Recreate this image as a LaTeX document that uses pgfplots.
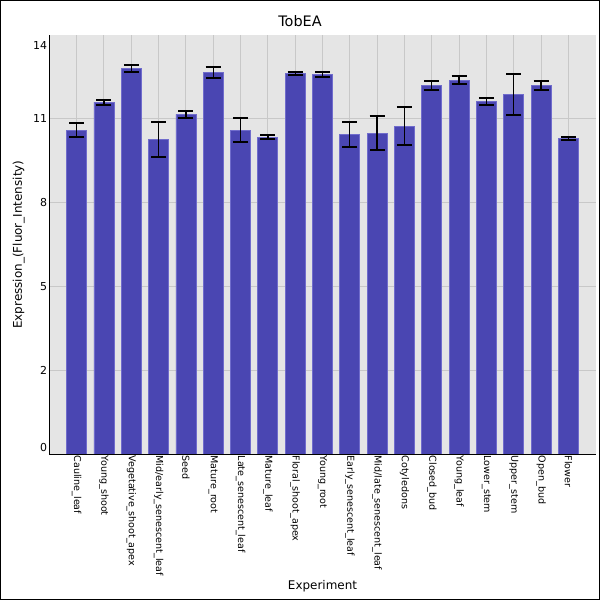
\documentclass[border=0pt]{standalone}
\usepackage{fontspec}
\setmainfont{DejaVu Sans}
\usepackage{pgfplots}
\pgfplotsset{compat=1.18}
\definecolor{barfill}{RGB}{74,70,178}
\definecolor{baredge}{RGB}{112,108,204}
\definecolor{plotbg}{RGB}{229,229,229}
\definecolor{gridc}{RGB}{200,200,200}
\begin{document}
\begin{tikzpicture}
\useasboundingbox (0,0) rectangle (600bp,600bp);
\fill[white] (0,0) rectangle (600bp,600bp);
\draw[black, line width=1bp] (0.5bp,0.5bp) rectangle (599.5bp,599.5bp);
\begin{axis}[
  at={(49.3bp,146bp)}, anchor=south west,
  scale only axis, width=546.4bp, height=418.8bp,
  xmin=-1, xmax=19, ymin=0, ymax=14.5,
  axis background/.style={fill=plotbg},
  axis x line*=bottom, axis y line*=left,
  axis line style={black, line width=1bp, -},
  major tick length=0pt,
  xmajorgrids, ymajorgrids,
  grid style={gridc, line width=1bp},
  xtick={0,...,18},
  xticklabels={Cauline\_leaf, Young\_shoot, Vegetative\_shoot\_apex, Mid/early\_senescent\_leaf, Seed, Mature\_root, Late\_senescent\_leaf, Mature\_leaf, Floral\_shoot\_apex, Young\_root, Early\_senescent\_leaf, Mid/late\_senescent\_leaf, Cotyledons, Closed\_bud, Young\_leaf, Lower\_stem, Upper\_stem, Open\_bud, Flower},
  xticklabel style={rotate=-90, anchor=west, font=\fontsize{9.6}{11}\selectfont, inner sep=1.5bp},
  ytick={2.9,5.8,8.7,11.6},
  yticklabels={2,5,8,11},
  extra y ticks={0.23,14.15},
  extra y tick labels={0,14},
  extra y tick style={grid=none},
  yticklabel style={font=\fontsize{11}{13}\selectfont, inner sep=2bp},
  title={TobEA},
  title style={at={(axis description cs:0.4588,1.0189)}, anchor=center, font=\fontsize{14.5}{17}\selectfont},
  xlabel={Experiment},
  xlabel style={at={(axis description cs:0.5,-0.3164)}, anchor=center, font=\fontsize{12}{14}\selectfont},
  ylabel={Expression\_(Fluor\_Intensity)},
  ylabel style={at={(axis description cs:-0.056,0.5)}, anchor=center, font=\fontsize{12}{14}\selectfont},
]
\addplot[ybar, bar width=20bp, fill=barfill, draw=baredge, line width=0.8bp,
  error bars/.cd, y dir=both, y explicit,
  error bar style={black, line width=1.3bp},
  error mark options={black, rotate=90, mark size=7.5bp, line width=2bp}]
table[x=x, y=y, y error=e] {
x y e
0 11.21 0.24
1 12.18 0.09
2 13.36 0.12
3 10.90 0.61
4 11.76 0.13
5 13.22 0.19
6 11.21 0.41
7 10.97 0.06
8 13.18 0.05
9 13.15 0.09
10 11.07 0.44
11 11.11 0.59
12 11.35 0.66
13 12.75 0.16
14 12.94 0.14
15 12.21 0.12
16 12.46 0.71
17 12.77 0.16
18 10.93 0.05
};
\end{axis}
\end{tikzpicture}
\end{document}
